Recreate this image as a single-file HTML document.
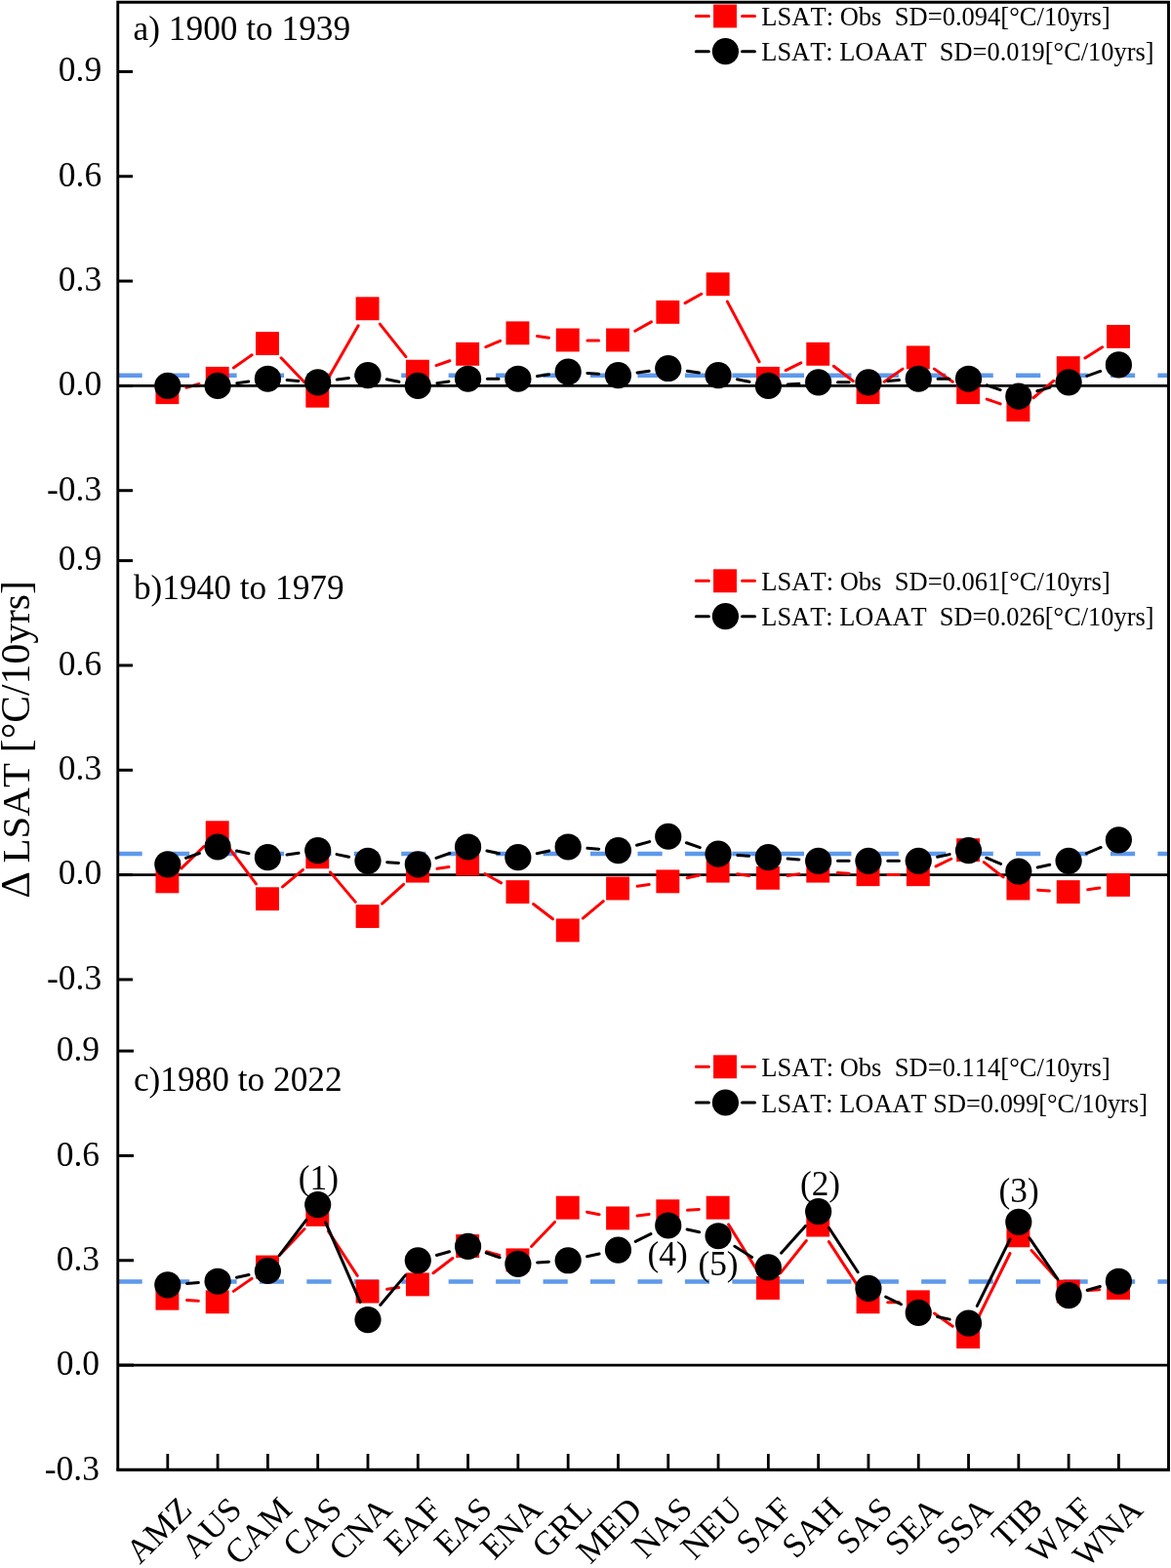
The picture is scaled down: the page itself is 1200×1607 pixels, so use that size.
<!DOCTYPE html>
<html><head><meta charset="utf-8"><title>LSAT trends</title><style>html,body{margin:0;padding:0;background:#fff}svg{display:block}</style></head><body>
<svg width="1200" height="1607" viewBox="0 0 1200 1607" font-family="'Liberation Serif', serif" fill="#000" style="font-kerning:none">
<rect x="0" y="0" width="1200" height="1607" fill="#fff"/>
<line x1="120.5" y1="384.7" x2="1197.5" y2="384.7" stroke="#5e99eb" stroke-width="4.6" stroke-dasharray="25.2 23.25"/>
<line x1="120.5" y1="875.0" x2="1197.5" y2="875.0" stroke="#5e99eb" stroke-width="4.6" stroke-dasharray="25.2 23.25"/>
<line x1="120.5" y1="1313.45" x2="1197.5" y2="1313.45" stroke="#5e99eb" stroke-width="4.6" stroke-dasharray="25.2 23.25"/>
<line x1="120.75" y1="395.4" x2="1197.5" y2="395.4" stroke="#000" stroke-width="2.9"/>
<line x1="120.75" y1="896.6" x2="1197.5" y2="896.6" stroke="#000" stroke-width="2.9"/>
<line x1="120.75" y1="1399.1" x2="1197.5" y2="1399.1" stroke="#000" stroke-width="2.9"/>
<path d="M190.87 397.23L204.02 393.57M239.34 376.92L258.15 363.79M288.07 366.78L312.00 391.82M335.54 388.96L367.13 333.87M389.32 332.18L415.94 365.60M446.97 374.57L460.87 369.72M497.84 355.56L512.60 349.38M550.48 344.47L562.55 346.15M601.96 348.89L613.66 348.89M650.75 339.24L667.46 329.92M702.04 310.62L718.75 301.29M745.33 309.13L778.05 370.76M805.13 379.56L820.84 371.89M854.34 375.25L874.22 390.50M906.17 391.23L924.98 378.11M957.47 378.11L976.28 391.23M1011.22 409.08L1025.12 413.92M1059.00 407.74L1079.93 390.22M1111.88 366.98L1129.64 355.84" stroke="#ff0000" stroke-width="3.0" fill="none" stroke-linecap="round"/>
<g fill="#ff0000"><rect x="159.45" y="390.21" width="23.9" height="23.9"/><rect x="210.75" y="375.89" width="23.9" height="23.9"/><rect x="262.04" y="340.12" width="23.9" height="23.9"/><rect x="313.34" y="393.78" width="23.9" height="23.9"/><rect x="364.63" y="304.34" width="23.9" height="23.9"/><rect x="415.93" y="368.74" width="23.9" height="23.9"/><rect x="467.22" y="350.85" width="23.9" height="23.9"/><rect x="518.51" y="329.38" width="23.9" height="23.9"/><rect x="569.81" y="336.54" width="23.9" height="23.9"/><rect x="621.11" y="336.54" width="23.9" height="23.9"/><rect x="672.40" y="307.92" width="23.9" height="23.9"/><rect x="723.70" y="279.30" width="23.9" height="23.9"/><rect x="774.99" y="375.89" width="23.9" height="23.9"/><rect x="826.28" y="350.85" width="23.9" height="23.9"/><rect x="877.58" y="390.21" width="23.9" height="23.9"/><rect x="928.88" y="354.43" width="23.9" height="23.9"/><rect x="980.17" y="390.21" width="23.9" height="23.9"/><rect x="1031.46" y="408.09" width="23.9" height="23.9"/><rect x="1082.76" y="365.16" width="23.9" height="23.9"/><rect x="1134.05" y="332.96" width="23.9" height="23.9"/></g>
<path d="M191.60 395.40L203.30 395.40M242.71 392.66L254.78 390.98M294.14 389.62L305.93 390.44M345.30 389.09L357.37 387.40M396.36 388.72L408.89 391.34M447.89 392.66L459.96 390.98M499.37 388.24L511.06 388.24M550.48 385.51L562.55 383.82M601.91 382.47L613.70 383.29M653.07 381.93L665.14 380.25M704.36 380.25L716.43 381.93M755.43 388.72L767.96 391.34M807.09 394.02L818.88 393.20M858.43 391.82L870.13 391.82M909.68 390.44L921.47 389.62M961.03 388.24L972.72 388.24M1011.22 394.76L1025.12 399.61M1062.89 400.81L1076.04 397.14M1113.81 385.30L1127.71 380.45" stroke="#000" stroke-width="3.0" fill="none" stroke-linecap="round"/>
<g fill="#000"><circle cx="171.80" cy="395.40" r="13.6"/><circle cx="223.10" cy="395.40" r="13.6"/><circle cx="274.39" cy="388.24" r="13.6"/><circle cx="325.69" cy="391.82" r="13.6"/><circle cx="376.98" cy="384.67" r="13.6"/><circle cx="428.28" cy="395.40" r="13.6"/><circle cx="479.57" cy="388.24" r="13.6"/><circle cx="530.87" cy="388.24" r="13.6"/><circle cx="582.16" cy="381.09" r="13.6"/><circle cx="633.46" cy="384.67" r="13.6"/><circle cx="684.75" cy="377.51" r="13.6"/><circle cx="736.05" cy="384.67" r="13.6"/><circle cx="787.34" cy="395.40" r="13.6"/><circle cx="838.63" cy="391.82" r="13.6"/><circle cx="889.93" cy="391.82" r="13.6"/><circle cx="941.23" cy="388.24" r="13.6"/><circle cx="992.52" cy="388.24" r="13.6"/><circle cx="1043.82" cy="406.13" r="13.6"/><circle cx="1095.11" cy="391.82" r="13.6"/><circle cx="1146.40" cy="373.93" r="13.6"/></g>
<path d="M185.97 889.92L208.93 867.50M235.02 869.47L262.46 905.84M289.57 908.94L310.50 891.42M338.45 893.85L364.21 924.40M391.65 926.23L413.61 906.32M447.89 890.29L459.96 888.60M496.86 895.51L513.57 904.84M546.57 926.54L566.45 941.79M597.34 941.13L618.27 923.62M653.07 908.18L665.14 906.49M704.13 899.70L716.66 897.08M755.66 895.76L767.73 897.44M806.95 897.44L819.02 895.76M858.39 894.40L870.18 895.22M909.73 896.60L921.43 896.60M959.02 887.91L974.73 880.24M1008.23 883.61L1028.11 898.86M1063.57 912.29L1075.36 913.11M1114.72 911.75L1126.79 910.07" stroke="#ff0000" stroke-width="3.0" fill="none" stroke-linecap="round"/>
<g fill="#ff0000"><rect x="159.45" y="891.41" width="23.9" height="23.9"/><rect x="210.75" y="841.32" width="23.9" height="23.9"/><rect x="262.04" y="909.29" width="23.9" height="23.9"/><rect x="313.34" y="866.36" width="23.9" height="23.9"/><rect x="364.63" y="927.18" width="23.9" height="23.9"/><rect x="415.93" y="880.67" width="23.9" height="23.9"/><rect x="467.22" y="873.52" width="23.9" height="23.9"/><rect x="518.51" y="902.14" width="23.9" height="23.9"/><rect x="569.81" y="941.49" width="23.9" height="23.9"/><rect x="621.11" y="898.56" width="23.9" height="23.9"/><rect x="672.40" y="891.41" width="23.9" height="23.9"/><rect x="723.70" y="880.67" width="23.9" height="23.9"/><rect x="774.99" y="887.83" width="23.9" height="23.9"/><rect x="826.28" y="880.67" width="23.9" height="23.9"/><rect x="877.58" y="884.25" width="23.9" height="23.9"/><rect x="928.88" y="884.25" width="23.9" height="23.9"/><rect x="980.17" y="859.21" width="23.9" height="23.9"/><rect x="1031.46" y="898.56" width="23.9" height="23.9"/><rect x="1082.76" y="902.14" width="23.9" height="23.9"/><rect x="1134.05" y="894.98" width="23.9" height="23.9"/></g>
<path d="M190.50 879.35L204.40 874.50M242.48 872.03L255.01 874.66M294.00 875.98L306.07 874.29M345.07 875.61L357.60 878.23M396.73 883.67L408.52 884.49M446.97 879.35L460.87 874.50M498.95 872.03L511.48 874.66M550.25 874.66L562.78 872.03M601.91 869.36L613.70 870.18M652.53 866.24L665.68 862.57M703.45 863.77L717.35 868.61M755.80 876.51L767.59 877.33M807.09 880.09L818.88 880.91M858.43 882.29L870.13 882.29M909.73 882.29L921.43 882.29M960.61 878.23L973.14 875.61M1010.79 879.20L1025.55 885.38M1063.20 888.97L1075.73 886.34M1113.38 874.65L1128.14 868.47" stroke="#000" stroke-width="3.0" fill="none" stroke-linecap="round"/>
<g fill="#000"><circle cx="171.80" cy="885.87" r="13.6"/><circle cx="223.10" cy="867.98" r="13.6"/><circle cx="274.39" cy="878.71" r="13.6"/><circle cx="325.69" cy="871.56" r="13.6"/><circle cx="376.98" cy="882.29" r="13.6"/><circle cx="428.28" cy="885.87" r="13.6"/><circle cx="479.57" cy="867.98" r="13.6"/><circle cx="530.87" cy="878.71" r="13.6"/><circle cx="582.16" cy="867.98" r="13.6"/><circle cx="633.46" cy="871.56" r="13.6"/><circle cx="684.75" cy="857.25" r="13.6"/><circle cx="736.05" cy="875.13" r="13.6"/><circle cx="787.34" cy="878.71" r="13.6"/><circle cx="838.63" cy="882.29" r="13.6"/><circle cx="889.93" cy="882.29" r="13.6"/><circle cx="941.23" cy="882.29" r="13.6"/><circle cx="992.52" cy="871.56" r="13.6"/><circle cx="1043.82" cy="893.02" r="13.6"/><circle cx="1095.11" cy="882.29" r="13.6"/><circle cx="1146.40" cy="860.82" r="13.6"/></g>
<path d="M191.55 1332.50L203.34 1333.32M239.34 1323.37L258.15 1310.25M288.07 1284.61L312.00 1259.57M336.50 1261.85L366.17 1307.38M396.59 1321.23L408.66 1319.55M443.98 1304.76L463.86 1289.51M498.64 1282.78L511.79 1286.45M544.55 1277.46L568.48 1252.42M601.54 1242.16L614.07 1244.78M653.07 1246.10L665.14 1244.42M704.50 1240.30L716.29 1239.48M746.52 1254.91L776.87 1303.59M799.68 1304.90L826.30 1271.48M849.45 1272.58L879.12 1318.11M909.73 1334.70L921.43 1334.70M957.47 1346.03L976.28 1359.15M1001.30 1352.73L1035.04 1284.47M1057.03 1281.47L1081.90 1309.22M1114.86 1322.59L1126.65 1321.77" stroke="#ff0000" stroke-width="3.0" fill="none" stroke-linecap="round"/>
<g fill="#ff0000"><rect x="159.45" y="1318.77" width="23.9" height="23.9"/><rect x="210.75" y="1322.35" width="23.9" height="23.9"/><rect x="262.04" y="1286.57" width="23.9" height="23.9"/><rect x="313.34" y="1232.91" width="23.9" height="23.9"/><rect x="364.63" y="1311.62" width="23.9" height="23.9"/><rect x="415.93" y="1304.46" width="23.9" height="23.9"/><rect x="467.22" y="1265.11" width="23.9" height="23.9"/><rect x="518.51" y="1279.42" width="23.9" height="23.9"/><rect x="569.81" y="1225.75" width="23.9" height="23.9"/><rect x="621.11" y="1236.49" width="23.9" height="23.9"/><rect x="672.40" y="1229.33" width="23.9" height="23.9"/><rect x="723.70" y="1225.75" width="23.9" height="23.9"/><rect x="774.99" y="1308.04" width="23.9" height="23.9"/><rect x="826.28" y="1243.64" width="23.9" height="23.9"/><rect x="877.58" y="1322.35" width="23.9" height="23.9"/><rect x="928.88" y="1322.35" width="23.9" height="23.9"/><rect x="980.17" y="1358.13" width="23.9" height="23.9"/><rect x="1031.46" y="1254.38" width="23.9" height="23.9"/><rect x="1082.76" y="1311.62" width="23.9" height="23.9"/><rect x="1134.05" y="1308.04" width="23.9" height="23.9"/></g>
<path d="M191.55 1315.44L203.34 1314.61M242.48 1309.18L255.01 1306.56M286.32 1286.70L313.76 1250.33M333.57 1252.69L369.09 1334.43M389.75 1337.45L415.51 1306.90M447.35 1286.45L460.50 1282.78M498.27 1283.98L512.17 1288.83M550.62 1293.97L562.41 1293.15M601.54 1287.71L614.07 1285.09M651.25 1272.35L666.96 1264.68M704.13 1260.05L716.66 1262.67M752.81 1277.25L770.57 1288.40M800.55 1284.18L825.42 1256.43M849.45 1258.27L879.12 1303.80M907.72 1329.08L923.43 1336.75M960.61 1349.49L973.14 1352.11M1001.30 1338.42L1035.04 1270.16M1054.98 1268.77L1083.95 1311.19M1114.18 1322.23L1127.33 1318.56" stroke="#000" stroke-width="3.0" fill="none" stroke-linecap="round"/>
<g fill="#000"><circle cx="171.80" cy="1316.81" r="13.6"/><circle cx="223.10" cy="1313.24" r="13.6"/><circle cx="274.39" cy="1302.50" r="13.6"/><circle cx="325.69" cy="1234.53" r="13.6"/><circle cx="376.98" cy="1352.59" r="13.6"/><circle cx="428.28" cy="1291.77" r="13.6"/><circle cx="479.57" cy="1277.46" r="13.6"/><circle cx="530.87" cy="1295.35" r="13.6"/><circle cx="582.16" cy="1291.77" r="13.6"/><circle cx="633.46" cy="1281.04" r="13.6"/><circle cx="684.75" cy="1255.99" r="13.6"/><circle cx="736.05" cy="1266.73" r="13.6"/><circle cx="787.34" cy="1298.92" r="13.6"/><circle cx="838.63" cy="1241.68" r="13.6"/><circle cx="889.93" cy="1320.39" r="13.6"/><circle cx="941.23" cy="1345.43" r="13.6"/><circle cx="992.52" cy="1356.17" r="13.6"/><circle cx="1043.82" cy="1252.41" r="13.6"/><circle cx="1095.11" cy="1327.55" r="13.6"/><circle cx="1146.40" cy="1313.24" r="13.6"/></g>
<path d="M120.75 1506.4V2.3H1197.5V1506.4" stroke="#000" stroke-width="2.9" fill="none" stroke-linejoin="miter"/>
<line x1="119.3" y1="1506.4" x2="1198.95" y2="1506.4" stroke="#000" stroke-width="3.1"/>
<line x1="120.75" y1="73.41" x2="136" y2="73.41" stroke="#000" stroke-width="3"/>
<text x="104.2" y="83.31" font-size="35.5" text-anchor="end">0.9</text>
<line x1="120.75" y1="180.74" x2="136" y2="180.74" stroke="#000" stroke-width="3"/>
<text x="104.2" y="190.64" font-size="35.5" text-anchor="end">0.6</text>
<line x1="120.75" y1="288.07" x2="136" y2="288.07" stroke="#000" stroke-width="3"/>
<text x="104.2" y="297.97" font-size="35.5" text-anchor="end">0.3</text>
<line x1="120.75" y1="395.40" x2="136" y2="395.40" stroke="#000" stroke-width="3"/>
<text x="104.2" y="405.30" font-size="35.5" text-anchor="end">0.0</text>
<line x1="120.75" y1="502.73" x2="136" y2="502.73" stroke="#000" stroke-width="3"/>
<text x="104.2" y="512.63" font-size="35.5" text-anchor="end">-0.3</text>
<line x1="120.75" y1="574.61" x2="136" y2="574.61" stroke="#000" stroke-width="3"/>
<text x="104.2" y="584.21" font-size="35.5" text-anchor="end">0.9</text>
<line x1="120.75" y1="681.94" x2="136" y2="681.94" stroke="#000" stroke-width="3"/>
<text x="104.2" y="691.54" font-size="35.5" text-anchor="end">0.6</text>
<line x1="120.75" y1="789.27" x2="136" y2="789.27" stroke="#000" stroke-width="3"/>
<text x="104.2" y="798.87" font-size="35.5" text-anchor="end">0.3</text>
<line x1="120.75" y1="896.60" x2="136" y2="896.60" stroke="#000" stroke-width="3"/>
<text x="104.2" y="906.20" font-size="35.5" text-anchor="end">0.0</text>
<line x1="120.75" y1="1003.93" x2="136" y2="1003.93" stroke="#000" stroke-width="3"/>
<text x="104.2" y="1013.53" font-size="35.5" text-anchor="end">-0.3</text>
<line x1="120.75" y1="1077.11" x2="137" y2="1077.11" stroke="#000" stroke-width="3"/>
<text x="102.0" y="1087.41" font-size="35.5" text-anchor="end">0.9</text>
<line x1="120.75" y1="1184.44" x2="137" y2="1184.44" stroke="#000" stroke-width="3"/>
<text x="102.0" y="1194.74" font-size="35.5" text-anchor="end">0.6</text>
<line x1="120.75" y1="1291.77" x2="137" y2="1291.77" stroke="#000" stroke-width="3"/>
<text x="102.0" y="1302.07" font-size="35.5" text-anchor="end">0.3</text>
<line x1="120.75" y1="1399.10" x2="137" y2="1399.10" stroke="#000" stroke-width="3"/>
<text x="102.0" y="1409.40" font-size="35.5" text-anchor="end">0.0</text>
<text x="102.0" y="1516.73" font-size="35.5" text-anchor="end">-0.3</text>
<line x1="171.80" y1="1490" x2="171.80" y2="1506.4" stroke="#000" stroke-width="2.8"/>
<text transform="translate(198.30 1549) rotate(-45)" font-size="35" text-anchor="end">AMZ</text>
<line x1="223.10" y1="1490" x2="223.10" y2="1506.4" stroke="#000" stroke-width="2.8"/>
<text transform="translate(249.60 1549) rotate(-45)" font-size="35" text-anchor="end">AUS</text>
<line x1="274.39" y1="1490" x2="274.39" y2="1506.4" stroke="#000" stroke-width="2.8"/>
<text transform="translate(300.89 1549) rotate(-45)" font-size="35" text-anchor="end">CAM</text>
<line x1="325.69" y1="1490" x2="325.69" y2="1506.4" stroke="#000" stroke-width="2.8"/>
<text transform="translate(352.19 1549) rotate(-45)" font-size="35" text-anchor="end">CAS</text>
<line x1="376.98" y1="1490" x2="376.98" y2="1506.4" stroke="#000" stroke-width="2.8"/>
<text transform="translate(403.48 1549) rotate(-45)" font-size="35" text-anchor="end">CNA</text>
<line x1="428.28" y1="1490" x2="428.28" y2="1506.4" stroke="#000" stroke-width="2.8"/>
<text transform="translate(454.78 1549) rotate(-45)" font-size="35" text-anchor="end">EAF</text>
<line x1="479.57" y1="1490" x2="479.57" y2="1506.4" stroke="#000" stroke-width="2.8"/>
<text transform="translate(506.07 1549) rotate(-45)" font-size="35" text-anchor="end">EAS</text>
<line x1="530.87" y1="1490" x2="530.87" y2="1506.4" stroke="#000" stroke-width="2.8"/>
<text transform="translate(557.37 1549) rotate(-45)" font-size="35" text-anchor="end">ENA</text>
<line x1="582.16" y1="1490" x2="582.16" y2="1506.4" stroke="#000" stroke-width="2.8"/>
<text transform="translate(608.66 1549) rotate(-45)" font-size="35" text-anchor="end">GRL</text>
<line x1="633.46" y1="1490" x2="633.46" y2="1506.4" stroke="#000" stroke-width="2.8"/>
<text transform="translate(659.96 1549) rotate(-45)" font-size="35" text-anchor="end">MED</text>
<line x1="684.75" y1="1490" x2="684.75" y2="1506.4" stroke="#000" stroke-width="2.8"/>
<text transform="translate(711.25 1549) rotate(-45)" font-size="35" text-anchor="end">NAS</text>
<line x1="736.05" y1="1490" x2="736.05" y2="1506.4" stroke="#000" stroke-width="2.8"/>
<text transform="translate(762.55 1549) rotate(-45)" font-size="35" text-anchor="end">NEU</text>
<line x1="787.34" y1="1490" x2="787.34" y2="1506.4" stroke="#000" stroke-width="2.8"/>
<text transform="translate(813.84 1549) rotate(-45)" font-size="35" text-anchor="end">SAF</text>
<line x1="838.63" y1="1490" x2="838.63" y2="1506.4" stroke="#000" stroke-width="2.8"/>
<text transform="translate(865.13 1549) rotate(-45)" font-size="35" text-anchor="end">SAH</text>
<line x1="889.93" y1="1490" x2="889.93" y2="1506.4" stroke="#000" stroke-width="2.8"/>
<text transform="translate(916.43 1549) rotate(-45)" font-size="35" text-anchor="end">SAS</text>
<line x1="941.23" y1="1490" x2="941.23" y2="1506.4" stroke="#000" stroke-width="2.8"/>
<text transform="translate(967.73 1549) rotate(-45)" font-size="35" text-anchor="end">SEA</text>
<line x1="992.52" y1="1490" x2="992.52" y2="1506.4" stroke="#000" stroke-width="2.8"/>
<text transform="translate(1019.02 1549) rotate(-45)" font-size="35" text-anchor="end">SSA</text>
<line x1="1043.82" y1="1490" x2="1043.82" y2="1506.4" stroke="#000" stroke-width="2.8"/>
<text transform="translate(1070.32 1549) rotate(-45)" font-size="35" text-anchor="end">TIB</text>
<line x1="1095.11" y1="1490" x2="1095.11" y2="1506.4" stroke="#000" stroke-width="2.8"/>
<text transform="translate(1121.61 1549) rotate(-45)" font-size="35" text-anchor="end">WAF</text>
<line x1="1146.40" y1="1490" x2="1146.40" y2="1506.4" stroke="#000" stroke-width="2.8"/>
<text transform="translate(1172.90 1549) rotate(-45)" font-size="35" text-anchor="end">WNA</text>
<text x="136.6" y="41.4" font-size="35.3">a) 1900 to 1939</text>
<text x="136.9" y="613.5" font-size="35.3">b)1940 to 1979</text>
<text x="136.9" y="1118.1" font-size="35.3">c)1980 to 2022</text>
<text transform="translate(30.2 918.5) rotate(-90)" font-size="41" xml:space="preserve"><tspan x="-2.2" font-size="43">Δ</tspan><tspan x="34.0">LSAT</tspan><tspan x="147.3" font-size="41.6">[°C/10yrs]</tspan></text>
<path d="M713.3 16.5H726.4M760.5 16.5H773.5" stroke="#ff0000" stroke-width="3.0" stroke-linecap="round"/>
<rect x="731.05" y="4.550000000000001" width="23.9" height="23.9" fill="#ff0000"/>
<path d="M713.3 52.7H726.4M760.5 52.7H773.5" stroke="#000" stroke-width="3.0" stroke-linecap="round"/>
<circle cx="743.4" cy="52.7" r="13.6"/>
<text x="780.3" y="26.0" font-size="26.55" xml:space="preserve">LSAT: Obs  SD=0.094[°C/10yrs]</text>
<text x="780.3" y="62.2" font-size="26.4" xml:space="preserve">LSAT: LOAAT  SD=0.019[°C/10yrs]</text>
<path d="M713.3 595.3H726.4M760.5 595.3H773.5" stroke="#ff0000" stroke-width="3.0" stroke-linecap="round"/>
<rect x="731.05" y="583.3499999999999" width="23.9" height="23.9" fill="#ff0000"/>
<path d="M713.3 631.7H726.4M760.5 631.7H773.5" stroke="#000" stroke-width="3.0" stroke-linecap="round"/>
<circle cx="743.4" cy="631.7" r="13.6"/>
<text x="780.3" y="604.8" font-size="26.55" xml:space="preserve">LSAT: Obs  SD=0.061[°C/10yrs]</text>
<text x="780.3" y="641.2" font-size="26.4" xml:space="preserve">LSAT: LOAAT  SD=0.026[°C/10yrs]</text>
<path d="M713.3 1093.3H726.4M760.5 1093.3H773.5" stroke="#ff0000" stroke-width="3.0" stroke-linecap="round"/>
<rect x="731.05" y="1081.35" width="23.9" height="23.9" fill="#ff0000"/>
<path d="M713.3 1130H726.4M760.5 1130H773.5" stroke="#000" stroke-width="3.0" stroke-linecap="round"/>
<circle cx="743.4" cy="1130" r="13.6"/>
<text x="780.3" y="1102.8" font-size="26.55" xml:space="preserve">LSAT: Obs  SD=0.114[°C/10yrs]</text>
<text x="780.3" y="1139.5" font-size="26.4" xml:space="preserve">LSAT: LOAAT SD=0.099[°C/10yrs]</text>
<text x="326.4" y="1219" font-size="35.3" text-anchor="middle">(1)</text>
<text x="840.5" y="1224.6" font-size="35.3" text-anchor="middle">(2)</text>
<text x="1044.2" y="1232.2" font-size="35.3" text-anchor="middle">(3)</text>
<text x="684.2" y="1297" font-size="35.3" text-anchor="middle">(4)</text>
<text x="736" y="1307" font-size="35.3" text-anchor="middle">(5)</text>
</svg>
</body></html>
